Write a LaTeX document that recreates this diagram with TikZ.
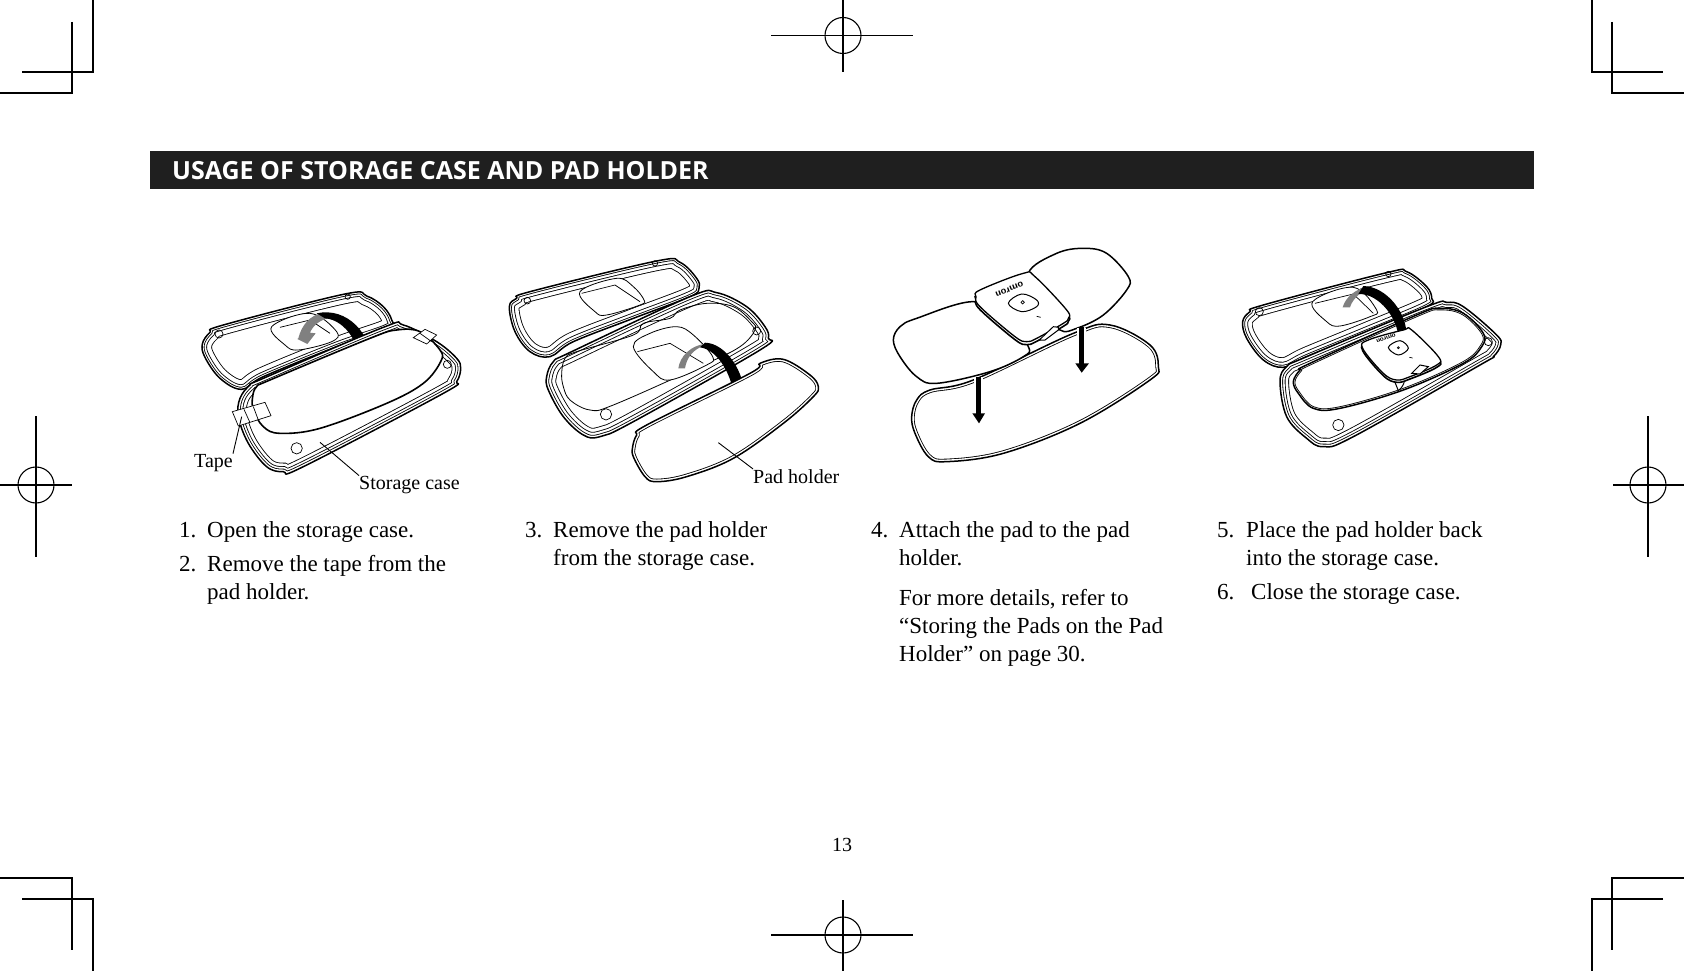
\documentclass[tikz,border=0pt]{standalone}
\usepackage{fontspec}
\setmainfont{Liberation Serif}
\newfontfamily\headfont{Open Sans}
\newcommand{\casing}[2]{%
  \fill[white] plot[smooth cycle,tension=.6] coordinates {#1};
  \begin{scope}
    \clip plot[smooth cycle,tension=.6] coordinates {#1};
    \foreach \d in {#2} {
      \draw[black,line width=2*\d pt] plot[smooth cycle,tension=.6] coordinates {#1};
      \draw[white,line width=2*\d pt-1.7pt] plot[smooth cycle,tension=.6] coordinates {#1};
    }
  \end{scope}
  \draw[black,line width=1.5pt,line join=round] plot[smooth cycle,tension=.6] coordinates {#1};
}
\newcommand{\blob}[2][]{%
  \draw[black,line width=1pt,fill=white,#1] plot[smooth cycle,tension=.6] coordinates {#2};
}
\tikzset{
  crop/.style={black,line width=1.1pt},
  body/.style={anchor=base west,inner sep=0pt,font=\fontsize{23}{28}\selectfont},
  lab/.style={anchor=base west,inner sep=0pt,font=\fontsize{20}{24}\selectfont},
  lead/.style={black,line width=.9pt},
  thin line/.style={black,line width=.7pt},
  ribbon/.style={fill=black,draw=none},
  greyribbon/.style={fill=black!50,draw=none},
  logo/.style={inner sep=0pt,font=\sffamily\bfseries},
}
\newcommand{\regmark}[3]{% name, x, y
  \draw[crop] (#2,#3) circle (18);
}
\begin{document}
\begin{tikzpicture}[x=1pt,y=-1pt]
\useasboundingbox[fill=white] (0,0) rectangle (1684,971);
% corner crop marks
\draw[crop] (93,0)--(93,72)--(22,72) (72,22)--(72,93)--(0,93);
\draw[crop] (1592,0)--(1592,72)--(1663,72) (1612,22)--(1612,93)--(1684,93);
\draw[crop] (0,878)--(72,878)--(72,950) (22,899)--(93,899)--(93,971);
\draw[crop] (1684,878)--(1612,878)--(1612,950) (1663,899)--(1592,899)--(1592,971);
% registration marks
\regmark{t}{843}{35.5}\draw[crop] (771,35.5)--(913,35.5) (843,0)--(843,72);
\regmark{b}{843}{935}\draw[crop] (771,935)--(913,935) (843,900)--(843,971);
\regmark{l}{36}{485}\draw[crop] (0,485)--(72,485) (36,416)--(36,557);
\regmark{r}{1648}{485}\draw[crop] (1613,485)--(1684,485) (1648,416)--(1648,557);
% header
\fill[black!88] (150,151) rectangle (1534,189);
\node[anchor=base west,inner sep=0pt,text=white,font=\headfont\bfseries\fontsize{25}{30}\selectfont] (title) at (172,179) {USAGE OF STORAGE CASE AND PAD HOLDER};

% ---------- scene 1
\begin{scope}[shift={(170,270)},scale=1/3]
  \casing{(97,222)(120,187)(160,165)(525,72)(590,78)(640,110)(665,150)(655,175)(500,230)(280,320)(215,358)(150,325)(105,262)}{10,5,2.5}
  \draw[thin line] (147,192) circle (12) (533,80) circle (8);
  \blob[line width=.8pt]{(305,170)(420,130)(500,185)(485,215)(385,240)(345,225)}
  \draw[thin line] (330,172)--(420,150)--(480,190);
  \fill[greyribbon] (460,128)..controls (420,135) and (395,165) .. (385,205)--(382,207)--(412,222)--(437,190)--(420,188)..controls (430,165) and (450,150) .. (475,145)--cycle;
  \fill[ribbon] (440,130)..controls (530,110) and (610,190) .. (607,298)--(575,305)..controls (575,230) and (530,150) .. (465,145)--cycle;
  \casing{(210,385)(240,345)(280,325)(640,172)(700,165)(800,215)(860,265)(872,295)(860,335)(820,370)(400,590)(340,605)(290,590)(235,520)(205,440)}{9,5.5,3}
  \draw[thin line] (380,535) circle (17) (832,283) circle (12);
  \blob[line width=1.6pt]{(248,380)(260,350)(300,330)(600,205)(680,180)(750,185)(810,240)(812,275)(760,340)(650,400)(450,475)(330,490)(280,470)(250,420)}
  \draw[thin line,fill=white] (730,203)--(765,178)--(800,195)--(770,222)--cycle (750,190)--(785,215);
  \draw[thin line,fill=white] (187,425)--(285,397)--(303,437)--(205,468)--cycle (222,418)--(240,458) (250,410)--(265,450);
  \coordinate (tapeend) at (215,440);
  \coordinate (caseend) at (450,517);
\end{scope}
\node[lab] (tape) at (194,467) {Tape};
\node[lab] (storage) at (359,489) {Storage case};
\draw[lead] (tapeend)--(tape.north east);
\draw[lead] (caseend)--(storage.north west);

% ---------- scene 2
\begin{scope}[shift={(500,250)},scale=1/3]
  \casing{(28,170)(50,145)(90,125)(470,33)(540,37)(590,85)(597,115)(570,140)(400,205)(220,275)(150,320)(90,305)(45,245)}{10,5.5,2.5}
  \draw[thin line] (82,152) circle (10) (465,40) circle (8);
  \blob[line width=.8pt]{(240,125)(350,85)(400,110)(432,150)(420,165)(320,195)(285,185)}
  \draw[thin line] (245,130)--(345,105)--(420,155);
  \casing{(140,380)(160,335)(215,305)(570,140)(650,128)(740,170)(795,230)(805,265)(780,300)(400,515)(300,560)(250,555)(190,500)(145,420)}{10,6,3}
  \draw[line width=.8pt] plot[smooth cycle,tension=.6] coordinates {(185,370)(195,325)(230,305)(400,255)(430,220)(510,205)(540,180)(620,160)(700,170)(755,215)(765,240)(720,290)(610,345)(340,465)(270,480)(210,450)(190,410)};
  \draw[thin line] (318,493) circle (17) (770,243) circle (12);
  \blob[line width=.8pt]{(400,290)(450,250)(530,230)(580,255)(638,320)(620,345)(510,390)(460,365)}
  \draw[thin line] (412,305)--(510,280)--(610,340);
  \fill[greyribbon] (535,355)..controls (540,320) and (570,285) .. (625,280)--(600,292)..controls (575,305) and (560,325) .. (555,355)--cycle;
  \fill[ribbon] (615,278)..controls (680,280) and (735,370) .. (733,440)--(737,436)--(715,476)--(693,448)--(702,445)..controls (700,390) and (660,300) .. (600,292)--cycle;
  \casing{(398,590)(410,555)(440,525)(750,370)(780,340)(850,328)(930,375)(955,410)(940,440)(850,520)(700,625)(560,680)(470,695)(435,680)(400,620)}{3}
  \coordinate (padend) at (655,578);
\end{scope}
\node[lab] (pad) at (753,483) {Pad holder};
\draw[lead] (padend)--(pad.north west);

% ---------- scene 3
\begin{scope}[shift={(880,240)},scale=1/3]
  \casing{(95,530)(110,480)(150,450)(280,420)(580,280)(690,255)(810,315)(835,380)(810,420)(600,550)(370,640)(200,665)(145,650)(105,580)}{3}
  \blob[line width=1.5pt]{(40,300)(60,260)(110,235)(280,185)(380,240)(445,320)(430,350)(330,395)(170,430)(110,410)(60,350)}
  \blob[line width=1.5pt]{(445,100)(530,40)(610,25)(680,40)(745,110)(740,150)(670,225)(590,265)(540,270)(480,200)}
  \begin{scope}[shift={(0,9)}]
    \blob[line width=1.6pt]{(288,170)(300,150)(430,100)(465,110)(560,210)(565,235)(550,250)(470,295)(440,305)(405,290)(300,200)}
  \end{scope}
  \blob[line width=1.3pt]{(288,170)(300,150)(430,100)(465,110)(560,210)(565,235)(550,250)(470,295)(440,305)(405,290)(300,200)}
  \blob[line width=1pt]{(385,190)(425,162)(470,180)(470,200)(425,215)}
  \draw[thin line] (428,187) circle (5);
  \draw[thin line] (470,229)--(482,232);
  \node[logo,rotate=201,font=\sffamily\bfseries\fontsize{10}{10}\selectfont] (logoa) at (388,148) {omron};
  \draw[line width=1pt,fill=white] (478,300)--(520,260)--(535,262)--(535,270)--(495,300)--cycle;
  \draw[white,line width=9pt] (605,265)--(605,300) (295,410)--(295,440);
  \draw[black,line width=5pt] (605,262)--(605,372) (295,410)--(295,522);
  \fill[black] (586,370)--(627,370)--(605,398)--cycle (277,520)--(315,520)--(297,550)--cycle;
\end{scope}

% ---------- scene 4
\begin{scope}[shift={(1230,270)},scale=1/3]
  \casing{(38,155)(60,125)(100,105)(470,8)(530,5)(590,50)(605,85)(590,110)(400,190)(230,260)(160,292)(100,270)(50,205)}{10,5.5,2.5}
  \draw[thin line] (88,125) circle (12) (475,12) circle (8);
  \blob[line width=.8pt]{(248,95)(370,52)(440,120)(420,140)(330,168)(290,155)}
  \draw[thin line] (255,100)--(370,72)--(430,130);
  \casing{(150,335)(170,290)(230,260)(590,110)(650,97)(700,110)(800,195)(812,225)(790,260)(750,285)(370,500)(280,530)(230,505)(170,440)}{9,5.5,3}
  \draw[thin line] (325,465) circle (17) (775,215) circle (12);
  \casing{(190,335)(210,300)(240,280)(560,135)(630,115)(700,130)(760,190)(755,230)(700,280)(520,360)(330,415)(250,415)(205,370)}{2}
  \fill[greyribbon] (338,112)..controls (345,85) and (375,55) .. (420,48)--(385,75)..controls (375,85) and (365,95) .. (360,112)--cycle;
  \fill[ribbon] (400,48)..controls (470,50) and (535,130) .. (530,208)--(505,205)..controls (505,150) and (450,70) .. (385,72)--cycle;
  \draw[line width=1pt,fill=white] (505,362)..controls (520,350) and (525,335) .. (525,320)--(480,300)--cycle;
  \begin{scope}[shift={(0,7)}]
    \blob[line width=1.6pt]{(398,235)(415,210)(520,180)(545,180)(625,260)(620,285)(540,320)(500,330)(460,310)}
  \end{scope}
  \blob[line width=1.3pt]{(398,235)(415,210)(520,180)(545,180)(625,260)(620,285)(540,320)(500,330)(460,310)}
  \blob[line width=1pt]{(475,232)(510,212)(535,235)(505,255)}
  \draw[thin line] (505,233) circle (3);
  \draw[thin line] (538,262)--(548,264);
  \node[logo,rotate=200,font=\sffamily\bfseries\fontsize{7}{7}\selectfont] (logob) at (468,205) {omron};
  \draw[line width=1pt,fill=white] (545,310)--(570,285)--(595,290)--(570,312)--cycle;
\end{scope}

% ---------- text
\node[body] (n1) at (179,537) {1.};
\node[body] (t1) at (207,537) {Open the storage case.};
\node[body] (n2) at (179,571) {2.};
\node[body] (t2a) at (207,571) {Remove the tape from the};
\node[body] (t2b) at (207,599) {pad holder.};
\node[body] (n3) at (525,537) {3.};
\node[body] (t3a) at (553,537) {Remove the pad holder};
\node[body] (t3b) at (553,565) {from the storage case.};
\node[body] (n4) at (871,537) {4.};
\node[body] (t4a) at (899,537) {Attach the pad to the pad};
\node[body] (t4b) at (899,565) {holder.};
\node[body] (t4c) at (899,605) {For more details, refer to};
\node[body] (t4d) at (899,633) {“Storing the Pads on the Pad};
\node[body] (t4e) at (899,661) {Holder” on page 30.};
\node[body] (n5) at (1217,537) {5.};
\node[body] (t5a) at (1246,537) {Place the pad holder back};
\node[body] (t5b) at (1246,565) {into the storage case.};
\node[body] (n6) at (1217,599) {6.};
\node[body] (t6) at (1251,599) {Close the storage case.};
\node[anchor=base,inner sep=0pt,font=\fontsize{20}{24}\selectfont] (page) at (842,851) {13};
\end{tikzpicture}
\end{document}
